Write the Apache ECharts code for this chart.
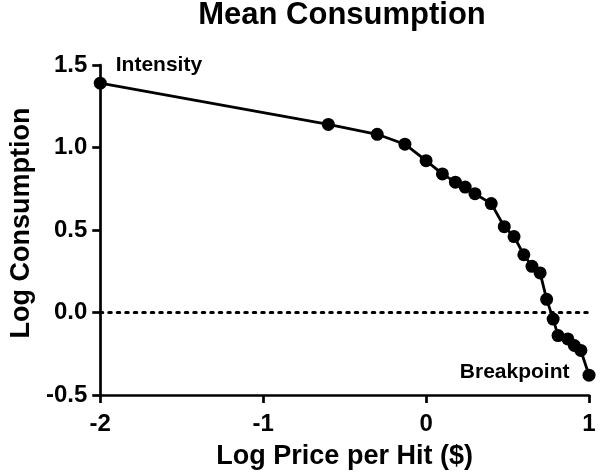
<!DOCTYPE html>
<html>
<head>
<meta charset="utf-8">
<script src="https://cdn.jsdelivr.net/npm/echarts@6/dist/echarts.min.js"></script>
<style>html,body{margin:0;padding:0;background:#fff}#c{width:600px;height:475px}</style>
</head>
<body>
<div id="c"></div>
<script>
var titleText = 'Mean Consumption';
var xName = 'Log Price per Hit ($)';
var yName = 'Log Consumption';
var logPrice = [-2, -0.6, -0.3, -0.13, 0, 0.1, 0.18, 0.24, 0.3, 0.4, 0.48, 0.54, 0.6, 0.65, 0.7, 0.74, 0.78, 0.81, 0.87, 0.91, 0.95, 1.0];
var logConsumption = [1.39, 1.14, 1.08, 1.02, 0.92, 0.84, 0.79, 0.76, 0.72, 0.66, 0.52, 0.46, 0.35, 0.28, 0.24, 0.08, -0.04, -0.14, -0.16, -0.20, -0.23, -0.38];
var xTicks = [-2, -1, 0, 1];
var yTicks = [-0.5, 0.0, 0.5, 1.0, 1.5];
var annotations = { 0: 'Intensity', 21: 'Breakpoint' };

var FONT = 'Liberation Sans, Arial, sans-serif';
var data = logPrice.map(function (x, i) {
  var item = { value: [x, logConsumption[i]] };
  if (annotations[i] !== undefined) {
    var first = i === 0;
    item.label = {
      show: true,
      formatter: annotations[i],
      position: first ? 'right' : 'left',
      offset: first ? [4, -18] : [-8, -3],
      color: '#000',
      fontWeight: 'bold',
      fontSize: 21,
      fontFamily: FONT
    };
  }
  return item;
});

var chart = echarts.init(document.getElementById('c'));
chart.setOption({
  animation: false,
  backgroundColor: '#fff',
  title: {
    text: titleText,
    left: 342,
    textAlign: 'center',
    top: 0,
    padding: 0,
    textStyle: { color: '#000', fontWeight: 'bold', fontSize: 31, fontFamily: FONT }
  },
  grid: { left: 95, right: 11, top: 65, bottom: 80, containLabel: false },
  xAxis: {
    type: 'value',
    min: xTicks[0], max: xTicks[xTicks.length - 1], interval: 1,
    name: xName, nameLocation: 'middle', nameGap: 48,
    nameTextStyle: { color: '#000', fontWeight: 'bold', fontSize: 27, fontFamily: FONT },
    axisLine: { show: true, onZero: false, lineStyle: { color: '#000', width: 2.7 } },
    axisTick: { show: true, length: 8, lineStyle: { color: '#000', width: 2.7 } },
    axisLabel: { color: '#000', fontWeight: 'bold', fontSize: 24, fontFamily: FONT, margin: 17,
      formatter: function (v) { return String(v); } },
    splitLine: { show: false }
  },
  yAxis: {
    type: 'value',
    min: yTicks[0], max: yTicks[yTicks.length - 1], interval: 0.5,
    name: yName, nameLocation: 'middle', nameGap: 54, nameRotate: 90,
    nameTextStyle: { color: '#000', fontWeight: 'bold', fontSize: 27, fontFamily: FONT, padding: [0, 0, 0, 14] },
    axisLine: { show: true, onZero: false, lineStyle: { color: '#000', width: 2.7 } },
    axisTick: { show: true, length: 8, lineStyle: { color: '#000', width: 2.7 } },
    axisLabel: { color: '#000', fontWeight: 'bold', fontSize: 24, fontFamily: FONT, margin: 13,
      formatter: function (v) { return v.toFixed(1); } },
    splitLine: { show: false }
  },
  series: [{
    type: 'line',
    data: data,
    symbol: 'circle',
    symbolSize: 13,
    clip: false,
    itemStyle: { color: '#000' },
    lineStyle: { color: '#000', width: 2.8 },
    markLine: {
      silent: true,
      symbol: 'none',
      label: { show: false },
      lineStyle: { color: '#000', width: 3, type: [2.5, 6], cap: 'round' },
      data: [{ yAxis: 0 }]
    }
  }]
});
</script>
</body>
</html>
